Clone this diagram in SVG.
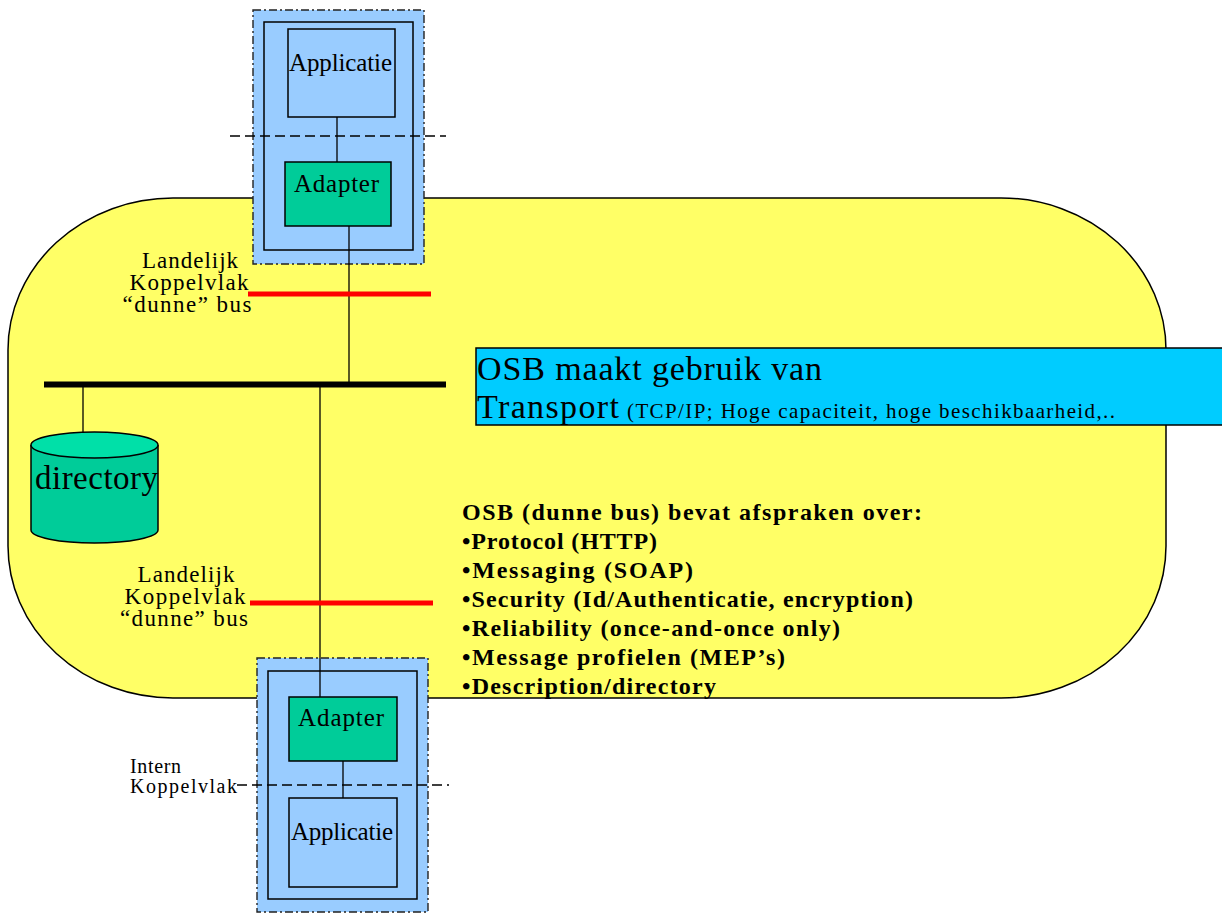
<svg xmlns="http://www.w3.org/2000/svg" width="1222" height="913" viewBox="0 0 1222 913">
  <style>
    text { font-family: "Liberation Serif", "Times New Roman", serif; fill: #000; }
    .outer { fill: #99ccff; stroke: #222; stroke-width: 1.4; stroke-dasharray: 8 3 2 3; }
    .inner { fill: #99ccff; stroke: #000; stroke-width: 1.5; }
    .app { fill: #99ccff; stroke: #000; stroke-width: 1.5; }
    .adapter { fill: #00cc99; stroke: #000; stroke-width: 1.5; }
    .wire { stroke: #000; stroke-width: 1.3; fill: none; }
    .cut { stroke: #000; stroke-width: 1.5; stroke-dasharray: 10 5; fill: none; }
    .iface { stroke: #ff0000; stroke-width: 5; }
    .lbl { font-size: 23px; text-anchor: middle; }
    .box { font-size: 25px; }
    .bold { font-size: 24px; font-weight: bold; }
  </style>

  <!-- OSB bus area -->
  <g id="osb-area">
    <rect x="8" y="198" width="1158" height="500" rx="165" ry="152" fill="#ffff66" stroke="#000" stroke-width="1.5"/>
  </g>

  <!-- top application stack -->
  <g id="top-stack">
    <rect class="outer" x="253" y="10" width="171" height="254"/>
    <rect class="inner" x="264" y="22" width="149" height="228"/>
  </g>
  <g id="top-applicatie">
    <rect class="app" x="288" y="29" width="107" height="88"/>
    <text class="box" x="289" y="71" textLength="103" lengthAdjust="spacing">Applicatie</text>
  </g>
  <g id="top-adapter">
    <rect class="adapter" x="285" y="162" width="106" height="64"/>
    <text class="box" x="294" y="192" textLength="85" lengthAdjust="spacing">Adapter</text>
  </g>

  <!-- bottom application stack -->
  <g id="bottom-stack">
    <rect class="outer" x="257" y="658" width="171" height="254"/>
    <rect class="inner" x="268" y="671" width="149" height="228"/>
  </g>
  <g id="bottom-adapter">
    <rect class="adapter" x="289" y="697" width="108" height="64"/>
    <text class="box" x="298" y="726" textLength="86" lengthAdjust="spacing">Adapter</text>
  </g>
  <g id="bottom-applicatie">
    <rect class="app" x="289" y="798" width="108" height="89"/>
    <text class="box" x="291" y="840" textLength="102" lengthAdjust="spacing">Applicatie</text>
  </g>

  <!-- directory store -->
  <g id="directory">
    <path d="M31,445 L31,530 A63.5,13 0 0 0 158,530 L158,445" fill="#00cc99" stroke="#000" stroke-width="1.5"/>
    <ellipse cx="94.5" cy="445" rx="63.5" ry="13" fill="#00e0a8" stroke="#000" stroke-width="1.5"/>
    <text x="35" y="489" font-size="33" textLength="123" lengthAdjust="spacing">directory</text>
  </g>

  <!-- connectors -->
  <g id="connectors">
    <line class="wire" x1="337" y1="117" x2="337" y2="162"/>
    <line class="wire" x1="349" y1="226" x2="349" y2="383"/>
    <line class="wire" x1="320" y1="387" x2="320" y2="697"/>
    <line class="wire" x1="83" y1="387" x2="83" y2="432"/>
    <line class="wire" x1="343" y1="761" x2="343" y2="798"/>
    <line x1="44" y1="384.5" x2="446" y2="384.5" stroke="#000" stroke-width="6"/>
    <line class="cut" x1="230" y1="136" x2="446" y2="136"/>
    <line class="cut" x1="237" y1="785" x2="449" y2="785"/>
    <line class="iface" x1="248" y1="294" x2="431" y2="294"/>
    <line class="iface" x1="250" y1="603" x2="433" y2="603"/>
  </g>

  <!-- interface labels -->
  <g id="label-landelijk-top">
    <text class="lbl" x="190" y="268" textLength="96" lengthAdjust="spacing">Landelijk</text>
    <text class="lbl" x="189" y="290" textLength="119" lengthAdjust="spacing">Koppelvlak</text>
    <text class="lbl" x="187" y="312" textLength="129" lengthAdjust="spacing">“dunne” bus</text>
  </g>
  <g id="label-landelijk-bottom">
    <text class="lbl" x="186" y="582" textLength="97" lengthAdjust="spacing">Landelijk</text>
    <text class="lbl" x="185" y="604" textLength="121" lengthAdjust="spacing">Koppelvlak</text>
    <text class="lbl" x="184" y="626" textLength="128" lengthAdjust="spacing">“dunne” bus</text>
  </g>
  <g id="label-intern">
    <text x="130" y="773" font-size="20" textLength="51" lengthAdjust="spacing">Intern</text>
    <text x="130" y="793" font-size="20" textLength="107" lengthAdjust="spacing">Koppelvlak</text>
  </g>

  <!-- transport note -->
  <g id="transport-note">
    <rect x="476" y="348" width="760" height="77" fill="#00ccff" stroke="#000" stroke-width="1.5"/>
    <text x="477" y="380" font-size="34" textLength="345" lengthAdjust="spacing">OSB maakt gebruik van</text>
    <text x="477" y="418" font-size="34" textLength="142" lengthAdjust="spacing">Transport</text>
    <text x="627" y="418" font-size="21" textLength="488" lengthAdjust="spacing">(TCP/IP;  Hoge capaciteit, hoge beschikbaarheid,..</text>
  </g>

  <!-- agreements list -->
  <g id="agreements">
    <text class="bold" x="462" y="520" textLength="460" lengthAdjust="spacing">OSB (dunne bus) bevat afspraken over:</text>
    <text class="bold" x="462" y="549" textLength="195" lengthAdjust="spacing">•Protocol (HTTP)</text>
    <text class="bold" x="462" y="578" textLength="231" lengthAdjust="spacing">•Messaging (SOAP)</text>
    <text class="bold" x="462" y="607" textLength="451" lengthAdjust="spacing">•Security (Id/Authenticatie, encryption)</text>
    <text class="bold" x="462" y="636" textLength="378" lengthAdjust="spacing">•Reliability (once-and-once only)</text>
    <text class="bold" x="462" y="665" textLength="323" lengthAdjust="spacing">•Message profielen (MEP’s)</text>
    <text class="bold" x="462" y="694" textLength="254" lengthAdjust="spacing">•Description/directory</text>
  </g>
</svg>
